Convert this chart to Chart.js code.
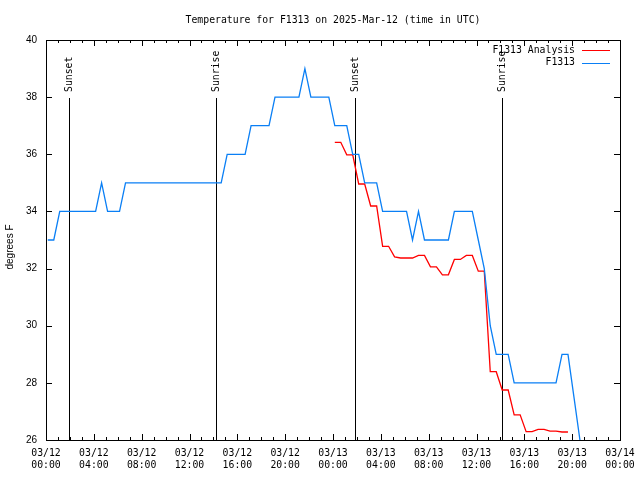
<!DOCTYPE html>
<html><head><meta charset="utf-8">
<script src="https://cdn.jsdelivr.net/npm/chart.js@4/dist/chart.umd.min.js"></script>
<style>html,body{margin:0;padding:0;background:#fff;}#wrap{width:640px;height:480px;}</style>
</head><body><div id="wrap"><canvas id="c" width="640" height="480"></canvas></div>
<script>
const chartTitle = 'Temperature for F1313 on 2025-Mar-12 (time in UTC)';
const yAxisTitle = 'degrees F';

// observation times, hours after 03/12 00:00 UTC
const sampleHours = [
  0.15,0.65,1.15,1.65,2.15,2.65,3.15,3.65,4.15,4.65,
  5.15,5.65,6.15,6.65,7.15,7.65,8.15,8.65,9.15,9.65,
  10.15,10.65,11.15,11.65,12.15,12.65,13.15,13.65,14.15,14.65,
  15.15,15.65,16.15,16.65,17.15,17.65,18.15,18.65,19.15,19.65,
  20.15,20.65,21.15,21.65,22.15,22.65,23.15,23.65,24.15,24.65,
  25.15,25.65,26.15,26.65,27.15,27.65,28.15,28.65,29.15,29.65,
  30.15,30.65,31.15,31.65,32.15,32.65,33.15,33.65,34.15,34.65,
  35.15,35.65,36.15,36.65,37.15,37.65,38.15,38.65,39.15,39.65,
  40.15,40.65,41.15,41.65,42.15,42.65,43.15,43.65,44.15,44.65
];
const stationLabel = 'F1313';
const stationValues = [
  33,33,34,34,34,34,34,34,34,35,
  34,34,34,35,35,35,35,35,35,35,
  35,35,35,35,35,35,35,35,35,35,
  36,36,36,36,37,37,37,37,38,38,
  38,38,38,39,38,38,38,38,37,37,
  37,36,36,35,35,35,34,34,34,34,
  34,33,34,33,33,33,33,33,34,34,
  34,34,33,32,30,29,29,29,28,28,
  28,28,28,28,28,28,29,29,27.5,26
];

const analysisLabel = 'F1313 Analysis';
const analysisHours = [
  24.15,24.65,25.15,25.65,26.15,26.65,27.15,27.65,28.15,28.65,
  29.15,29.65,30.15,30.65,31.15,31.65,32.15,32.65,33.15,33.65,
  34.15,34.65,35.15,35.65,36.15,36.65,37.15,37.65,38.15,38.65,
  39.15,39.65,40.15,40.65,41.15,41.65,42.15,42.65,43.15,43.65
];
const analysisValues = [
  36.42,36.42,35.98,35.98,34.96,34.96,34.19,34.19,32.78,32.78,
  32.41,32.37,32.37,32.37,32.46,32.46,32.06,32.06,31.78,31.78,
  32.32,32.32,32.46,32.46,31.91,31.91,28.39,28.39,27.75,27.75,
  26.88,26.88,26.29,26.29,26.37,26.37,26.31,26.31,26.28,26.28
];

const tickHours = [0,4,8,12,16,20,24,28,32,36,40,44,48];
const tickDates = ['03/12','03/12','03/12','03/12','03/12','03/12','03/13','03/13','03/13','03/13','03/13','03/13','03/14'];
const tickTimes = ['00:00','04:00','08:00','12:00','16:00','20:00','00:00','04:00','08:00','12:00','16:00','20:00','00:00'];

const sunLabels = ['Sunset','Sunrise','Sunset','Sunrise'];
const sunHours = [1.9, 14.19, 25.86, 38.16];

const MONO = '"DejaVu Sans Mono", "Liberation Mono", monospace';
const SANS = '"Liberation Sans", Arial, sans-serif';

const gnuFrame = {
  id: 'gnuFrame',
  beforeDatasetsDraw(chart) {
    const {ctx, chartArea: a, scales: {x, y}} = chart;
    ctx.save();
    ctx.strokeStyle = '#000';
    ctx.fillStyle = '#000';
    ctx.lineWidth = 1;
    ctx.beginPath();
    for (let h = x.min; h <= x.max; h++) {
      const px = Math.round(x.getPixelForValue(h)) + 0.5;
      const len = (h % 4 === 0) ? 6 : 3;
      ctx.moveTo(px, a.bottom); ctx.lineTo(px, a.bottom - len);
      ctx.moveTo(px, a.top); ctx.lineTo(px, a.top + len);
    }
    y.ticks.forEach(t => {
      const py = Math.round(y.getPixelForValue(t.value)) + 0.5;
      ctx.moveTo(a.left, py); ctx.lineTo(a.left + 6, py);
      ctx.moveTo(a.right, py); ctx.lineTo(a.right - 6, py);
    });
    ctx.stroke();
    ctx.strokeRect(Math.round(a.left) + 0.5, Math.round(a.top) + 0.5,
                   Math.round(a.right - a.left), Math.round(a.bottom - a.top));
    ctx.font = '9.8px ' + MONO;
    sunHours.forEach((h, i) => {
      const px = Math.round(x.getPixelForValue(h)) + 0.5;
      ctx.beginPath();
      ctx.moveTo(px, a.top + 58); ctx.lineTo(px, a.bottom);
      ctx.stroke();
      ctx.save();
      ctx.translate(px, a.top + 52);
      ctx.rotate(-Math.PI / 2);
      ctx.textAlign = 'left';
      ctx.textBaseline = 'middle';
      ctx.fillText(sunLabels[i], 0, 0);
      ctx.restore();
    });
    ctx.restore();
  },
  afterDraw(chart) {
    const {ctx, chartArea: a} = chart;
    ctx.save();
    ctx.fillStyle = '#000';
    ctx.font = '9.8px ' + MONO;
    ctx.textAlign = 'center';
    ctx.textBaseline = 'middle';
    ctx.fillText(chartTitle, (a.left + a.right) / 2, 20);
    ctx.save();
    ctx.font = '10px ' + SANS;
    ctx.translate(10, (a.top + a.bottom) / 2 + 7);
    ctx.rotate(-Math.PI / 2);
    ctx.fillText(yAxisTitle, 0, 0);
    ctx.restore();
    ctx.font = '9.8px ' + MONO;
    ctx.textAlign = 'right';
    chart.data.datasets.forEach((ds, i) => {
      const ly = a.top + 10 + i * 12.5;
      ctx.fillStyle = '#000';
      ctx.fillText(ds.label, a.right - 45, ly);
      ctx.strokeStyle = ds.borderColor;
      ctx.lineWidth = 1;
      ctx.beginPath();
      ctx.moveTo(a.right - 38, Math.round(ly) + 0.5);
      ctx.lineTo(a.right - 10, Math.round(ly) + 0.5);
      ctx.stroke();
    });
    ctx.restore();
  }
};

new Chart(document.getElementById('c').getContext('2d'), {
  type: 'line',
  data: {
    datasets: [
      {
        label: analysisLabel,
        data: analysisHours.map((h, i) => ({x: h, y: analysisValues[i]})),
        borderColor: '#ff0000',
        borderWidth: 1.3,
        pointRadius: 0,
        tension: 0,
        fill: false,
        order: 1
      },
      {
        label: stationLabel,
        data: sampleHours.map((h, i) => ({x: h, y: stationValues[i]})),
        borderColor: '#0a7ff5',
        borderWidth: 1.3,
        pointRadius: 0,
        tension: 0,
        fill: false,
        order: 0
      }
    ]
  },
  options: {
    responsive: false,
    animation: false,
    devicePixelRatio: 1,
    layout: {padding: {top: 40, right: 20, left: 0, bottom: 0}},
    plugins: {legend: {display: false}, title: {display: false}, tooltip: {enabled: false}},
    scales: {
      x: {
        type: 'linear', min: 0, max: 48,
        afterFit(s) { s.height = 40; s.paddingRight = 0; s.paddingLeft = 0; },
        afterBuildTicks(s) { s.ticks = tickHours.map(v => ({value: v})); },
        grid: {display: false, drawTicks: false},
        border: {display: false},
        ticks: {
          autoSkip: false, maxRotation: 0, padding: 8, color: '#000',
          font: {family: MONO, size: 9.8},
          callback: (v, i) => [tickDates[i], tickTimes[i]]
        }
      },
      y: {
        min: 26, max: 40,
        afterFit(s) { s.width = 46; s.paddingTop = 0; s.paddingBottom = 0; },
        grid: {display: false, drawTicks: false},
        border: {display: false},
        ticks: {stepSize: 2, padding: 9, color: '#000', font: {family: SANS, size: 10}}
      }
    }
  },
  plugins: [gnuFrame]
});
</script></body></html>
